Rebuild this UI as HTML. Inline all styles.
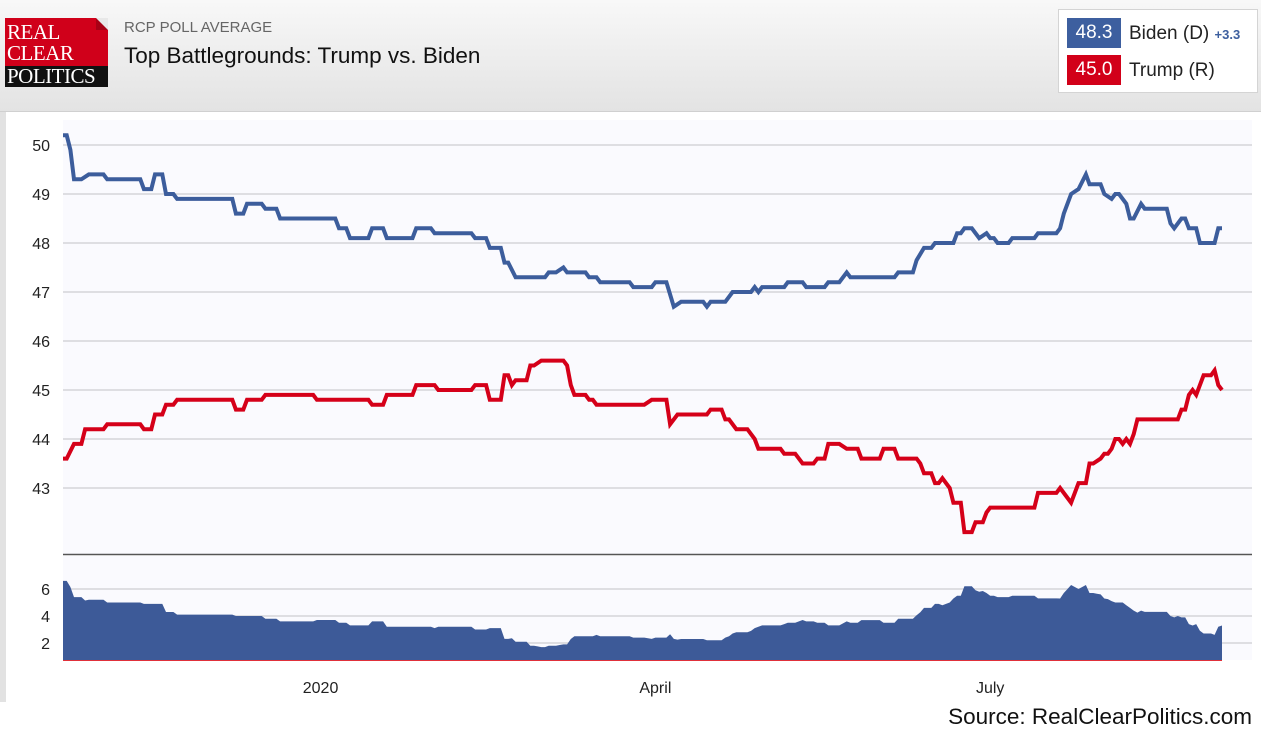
<!DOCTYPE html>
<html><head><meta charset="utf-8">
<style>
body{margin:0;width:1261px;height:732px;overflow:hidden;background:#fff;font-family:"Liberation Sans",sans-serif;position:relative}
#hdr{position:absolute;left:0;top:0;width:1261px;height:111px;background:linear-gradient(#f8f8f8,#e3e3e3);border-bottom:1px solid #d0d0d0}
#logo{position:absolute;left:5px;top:18px;width:103px;height:69px;font-family:"Liberation Serif",serif;color:#fff;font-size:21px;line-height:17px;letter-spacing:-0.5px}
#logo .r{position:absolute;left:0;top:0;width:103px;height:48px;background:#d0001a}
#logo .b{position:absolute;left:0;top:48px;width:103px;height:21px;background:#111}
#leg{position:absolute;left:1058px;top:9px;width:198px;height:82px;background:#fff;border:1px solid #d4d4d4}
.badge{position:absolute;left:8px;width:54px;height:30px;color:#fff;font-size:19px;line-height:30px;text-align:center}
.lt{position:absolute;left:70px;font-size:19px;color:#222}
</style></head><body>
<div id="hdr">
 <div id="logo">
  <div class="r"></div><div class="b"></div>
  <div style="position:absolute;left:2px;top:6px">REAL</div>
  <div style="position:absolute;left:2px;top:27px">CLEAR</div>
  <div style="position:absolute;left:2px;top:50px">POLITICS</div>
  <div style="position:absolute;right:0;top:0;width:0;height:0;border-top:12px solid #e8e8e8;border-left:12px solid #a80015"></div>
 </div>
 <div style="position:absolute;left:124px;top:19px;font-size:15px;color:#666">RCP POLL AVERAGE</div>
 <div style="position:absolute;left:124px;top:43px;font-size:22.5px;color:#111">Top Battlegrounds: Trump vs. Biden</div>
 <div id="leg">
  <div class="badge" style="top:8px;background:#3d5f9f">48.3</div>
  <div class="lt" style="top:13px">Biden (D) <span style="font-size:13px;color:#3d5f9f;font-weight:bold">+3.3</span></div>
  <div class="badge" style="top:45px;background:#d20019">45.0</div>
  <div class="lt" style="top:50px">Trump (R)</div>
 </div>
</div>
<div style="position:absolute;left:0;top:112px;width:6px;height:590px;background:#e2e2e2"></div>
<svg id="ch" width="1261" height="620" style="position:absolute;left:0;top:112px" viewBox="0 112 1261 620"></svg>
<div style="position:absolute;right:9px;top:704px;font-size:22.5px;color:#111">Source: RealClearPolitics.com</div>
<script>
const bidenDays=[0,1,2,3,5,7,11,12,21,22,24,25,27,28,30,31,46,47,49,50,54,55,58,59,74,75,77,78,83,84,87,88,95,96,100,101,111,112,115,116,119,120,121,123,131,132,134,136,137,142,143,145,146,154,155,160,161,164,166,168,174,175,176,180,182,187,188,189,190,196,197,201,202,207,208,211,213,214,226,227,231,232,234,236,237,242,243,244,245,247,249,251,252,253,254,257,258,264,265,270,271,272,274,276,278,279,282,283,285,286,287,289,290,291,293,294,300,301,302,304,305,306,308,309,313,314,315];
const bidenVals=[50.2,50.2,49.9,49.3,49.3,49.4,49.4,49.3,49.3,49.1,49.1,49.4,49.4,49.0,49.0,48.9,48.9,48.6,48.6,48.8,48.8,48.7,48.7,48.5,48.5,48.3,48.3,48.1,48.1,48.3,48.3,48.1,48.1,48.3,48.3,48.2,48.2,48.1,48.1,47.9,47.9,47.6,47.6,47.3,47.3,47.4,47.4,47.5,47.4,47.4,47.3,47.3,47.2,47.2,47.1,47.1,47.2,47.2,46.7,46.8,46.8,46.7,46.8,46.8,47.0,47.0,47.1,47.0,47.1,47.1,47.2,47.2,47.1,47.1,47.2,47.2,47.4,47.3,47.3,47.4,47.4,47.65,47.9,47.9,48.0,48.0,48.2,48.2,48.3,48.3,48.1,48.2,48.1,48.1,48.0,48.0,48.1,48.1,48.2,48.2,48.3,48.6,49.0,49.1,49.4,49.2,49.2,49.0,48.9,49.0,49.0,48.8,48.5,48.5,48.8,48.7,48.7,48.4,48.3,48.5,48.5,48.3,48.3,48.0,48.0,48.3,48.3];
const trumpDays=[0,1,3,5,6,11,12,21,22,24,25,27,28,30,31,46,47,49,50,54,55,68,69,83,84,87,88,95,96,101,102,111,112,115,116,119,120,121,122,123,126,127,128,130,136,137,138,139,142,143,144,145,158,160,164,165,167,175,176,179,180,181,183,186,188,189,195,196,199,201,204,205,207,208,211,213,216,217,222,223,226,227,232,233,234,236,237,238,239,240,241,242,244,245,247,248,250,251,252,264,265,270,271,274,276,278,279,280,282,283,284,285,286,287,288,289,290,291,292,303,304,305,306,307,308,310,312,313,314,315];
const trumpVals=[43.6,43.6,43.9,43.9,44.2,44.2,44.3,44.3,44.2,44.2,44.5,44.5,44.7,44.7,44.8,44.8,44.6,44.6,44.8,44.8,44.9,44.9,44.8,44.8,44.7,44.7,44.9,44.9,45.1,45.1,45.0,45.0,45.1,45.1,44.8,44.8,45.3,45.3,45.1,45.2,45.2,45.5,45.5,45.6,45.6,45.5,45.1,44.9,44.9,44.8,44.8,44.7,44.7,44.8,44.8,44.3,44.5,44.5,44.6,44.6,44.4,44.4,44.2,44.2,44.0,43.8,43.8,43.7,43.7,43.5,43.5,43.6,43.6,43.9,43.9,43.8,43.8,43.6,43.6,43.8,43.8,43.6,43.6,43.5,43.3,43.3,43.1,43.1,43.2,43.1,43.0,42.7,42.7,42.1,42.1,42.3,42.3,42.5,42.6,42.6,42.9,42.9,43.0,42.7,43.1,43.1,43.5,43.5,43.6,43.7,43.7,43.8,44.0,44.0,43.9,44.0,43.9,44.1,44.4,44.4,44.6,44.6,44.9,45.0,44.9,45.3,45.3,45.4,45.1,45.0];
const yTicks=[50,49,48,47,46,45,44,43];
const spreadTicks=[6,4,2];
const monthLabels=["2020","April","July"];
const monthDays=[70,161,252];
const NS="http://www.w3.org/2000/svg";
const svg=document.getElementById('ch');
const X0=63,X1=1222,D1=315;
const x=d=>X0+d*(X1-X0)/D1;
const y=v=>145+(50-v)*49;
const ys=v=>670-13.5*v;
function mk(t,a){const e=document.createElementNS(NS,t);for(const k in a)e.setAttribute(k,a[k]);svg.appendChild(e);return e;}
function interp(ds,vs,d){for(let i=0;i<ds.length-1;i++){if(d>=ds[i]&&d<=ds[i+1]){const f=ds[i+1]===ds[i]?0:(d-ds[i])/(ds[i+1]-ds[i]);return vs[i]+f*(vs[i+1]-vs[i]);}}return vs[vs.length-1];}
let e=mk('rect',{x:7,y:113,width:1254,height:590,fill:'#fff'});

e=mk('rect',{x:63,y:120,width:1189,height:434,fill:'#fafafe'});

e=mk('rect',{x:63,y:556,width:1189,height:104,fill:'#fafafe'});

yTicks.forEach(t=>{
 let g=mk('line',{x1:63,x2:1252,y1:y(t),y2:y(t),stroke:'#d4d4d8','stroke-width':1.5});
 
 let l=mk('text',{x:50,y:y(t)+6,'text-anchor':'end','font-size':16,fill:'#222','font-family':'Liberation Sans'});
 l.textContent=t;
});
spreadTicks.forEach(t=>{
 let g=mk('line',{x1:63,x2:1252,y1:ys(t),y2:ys(t),stroke:'#d4d4d8','stroke-width':1.5});
 
 let l=mk('text',{x:50,y:ys(t)+6,'text-anchor':'end','font-size':16,fill:'#222','font-family':'Liberation Sans'});
 l.textContent=t;
});
e=mk('line',{x1:63,x2:1252,y1:554.5,y2:554.5,stroke:'#555','stroke-width':1.5});

let p='M'+x(0)+',660';
for(let d=0;d<=D1;d++){const s=interp(bidenDays,bidenVals,d)-interp(trumpDays,trumpVals,d);p+=' L'+x(d).toFixed(1)+','+ys(s).toFixed(1);}
p+=' L'+x(D1)+',660 Z';
e=mk('path',{d:p,fill:'#3d5a98'});

e=mk('line',{x1:63,x2:1222,y1:660.5,y2:660.5,stroke:'#e0303a','stroke-width':1});

function line(ds,vs,c,n){const d=ds.map((dd,i)=>(i?'L':'M')+x(dd).toFixed(1)+','+y(vs[i]).toFixed(1)).join(' ');
 const l=mk('path',{d:d,fill:'none',stroke:c,'stroke-width':4,'stroke-linejoin':'miter'});
 }
line(bidenDays,bidenVals,'#3c5d9c','biden-line');
line(trumpDays,trumpVals,'#d50019','trump-line');
monthLabels.forEach((m,i)=>{
 const t=mk('text',{x:x(monthDays[i]),y:693,'text-anchor':'middle','font-size':16,fill:'#222','font-family':'Liberation Sans'});
 t.textContent=m;
});
</script>
</body></html>
